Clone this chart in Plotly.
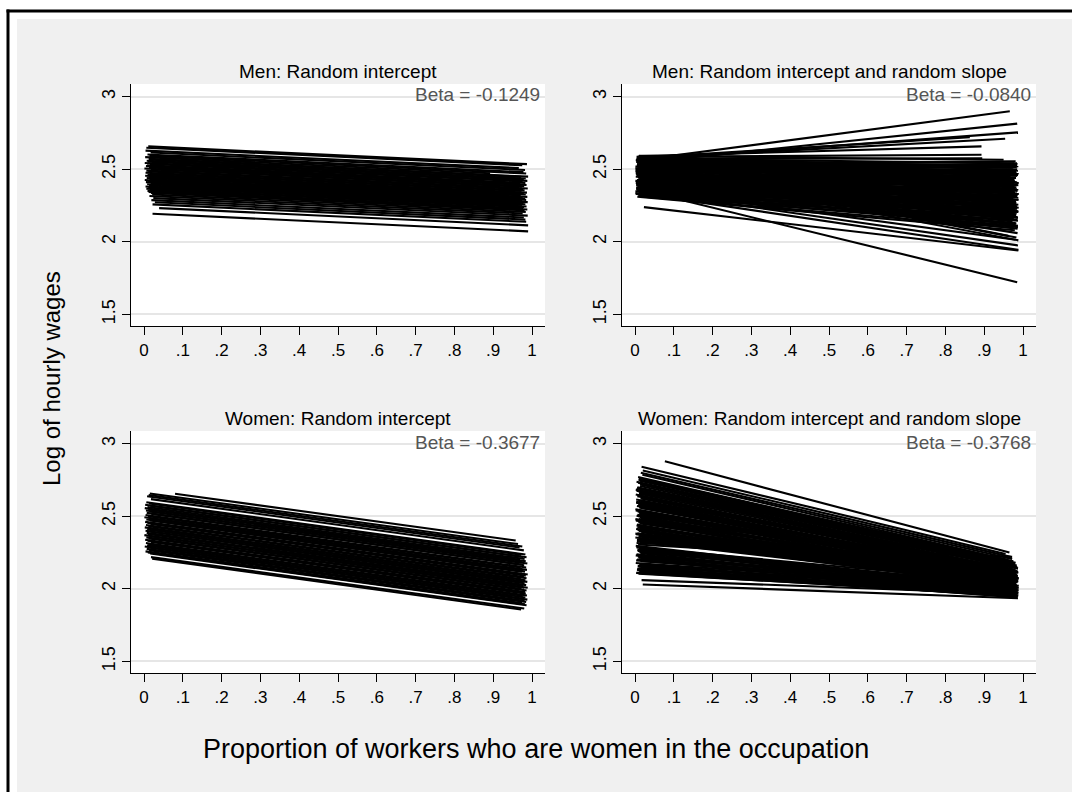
import plotly.graph_objects as go

W, H = 1072, 792
FONT = "Arial, Liberation Sans, sans-serif"

# ---------------- data ----------------
TITLES = ["Men: Random intercept", "Men: Random intercept and random slope",
          "Women: Random intercept", "Women: Random intercept and random slope"]
BETAS = [-0.1249, -0.0840, -0.3677, -0.3768]
X_TICKS = [0, 0.1, 0.2, 0.3, 0.4, 0.5, 0.6, 0.7, 0.8, 0.9, 1]
X_TICKTEXT = ["0", ".1", ".2", ".3", ".4", ".5", ".6", ".7", ".8", ".9", "1"]
Y_TICKS = [1.5, 2, 2.5, 3]
Y_TICKTEXT = ["1.5", "2", "2.5", "3"]

# Men, random intercept: occupation lines share the fixed slope (Beta)
MEN_RI_X0 = [0.011, 0.006, 0.004, 0.017, 0.009, 0.014, 0.003, 0.012, 0.019, 0.007,
             0.010, 0.002, 0.015, 0.008, 0.005, 0.013, 0.001, 0.018, 0.006, 0.011,
             0.004, 0.016, 0.009, 0.003, 0.012, 0.007, 0.014, 0.002, 0.010, 0.005,
             0.017, 0.008, 0.013, 0.004, 0.011, 0.006, 0.015, 0.009, 0.012, 0.018,
             0.021, 0.014, 0.024, 0.019, 0.028, 0.022, 0.039, 0.022]
MEN_RI_X1 = [0.987, 0.975, 0.966, 0.982, 0.978, 0.985, 0.892, 0.990, 0.972, 0.984,
             0.979, 0.988, 0.976, 0.983, 0.970, 0.986, 0.980, 0.974, 0.989, 0.977,
             0.981, 0.973, 0.987, 0.979, 0.984, 0.971, 0.988, 0.976, 0.982, 0.985,
             0.975, 0.989, 0.978, 0.983, 0.974, 0.986, 0.980, 0.977, 0.988, 0.981,
             0.984, 0.976, 0.989, 0.979, 0.983, 0.985, 0.990, 0.990]
MEN_RI_Y0 = [2.657, 2.648, 2.628, 2.615, 2.601, 2.592, 2.583, 2.571, 2.566, 2.558,
             2.551, 2.543, 2.536, 2.527, 2.521, 2.513, 2.505, 2.499, 2.490, 2.484,
             2.476, 2.469, 2.461, 2.455, 2.447, 2.440, 2.431, 2.426, 2.418, 2.411,
             2.402, 2.396, 2.388, 2.381, 2.374, 2.366, 2.359, 2.351, 2.344, 2.337,
             2.326, 2.315, 2.301, 2.287, 2.272, 2.258, 2.232, 2.193]

# Men, random intercept and random slope
MEN_RS_X0 = [0.020, 0.030, 0.025, 0.018, 0.022, 0.015, 0.012, 0.020, 0.010, 0.014,
             0.008, 0.016, 0.005, 0.011, 0.003, 0.017, 0.007, 0.013, 0.002, 0.009,
             0.019, 0.006, 0.012, 0.004, 0.015, 0.008, 0.001, 0.010, 0.014, 0.005,
             0.018, 0.003, 0.011, 0.007, 0.016, 0.002, 0.009, 0.013, 0.006, 0.012,
             0.004, 0.010, 0.017, 0.008, 0.003, 0.014, 0.020, 0.006, 0.011, 0.001,
             0.015, 0.020, 0.023, 0.009, 0.005, 0.012,
             0.004, 0.013, 0.002, 0.008, 0.015, 0.006, 0.011, 0.001, 0.017, 0.009,
             0.003, 0.012, 0.007, 0.014, 0.005, 0.010, 0.002, 0.016, 0.008, 0.004,
             0.013, 0.006, 0.011, 0.001, 0.009, 0.014, 0.003, 0.010, 0.007, 0.012,
             0.005, 0.015, 0.002, 0.011,
             0.007, 0.012, 0.003, 0.016, 0.009, 0.005, 0.014, 0.001, 0.011, 0.006,
             0.018, 0.004, 0.013, 0.008, 0.002, 0.015, 0.010, 0.006, 0.012, 0.003,
             0.017, 0.009, 0.005, 0.014, 0.001, 0.011, 0.007, 0.013, 0.004, 0.010,
             0.016, 0.002, 0.008, 0.012, 0.006, 0.015, 0.003, 0.009, 0.011, 0.005]
MEN_RS_Y0 = [2.567, 2.550, 2.565, 2.575, 2.580, 2.590, 2.585, 2.570, 2.592, 2.545,
             2.580, 2.560, 2.575, 2.540, 2.550, 2.530, 2.520, 2.510, 2.500, 2.490,
             2.485, 2.470, 2.460, 2.455, 2.440, 2.430, 2.420, 2.410, 2.400, 2.390,
             2.380, 2.370, 2.360, 2.350, 2.340, 2.330, 2.325, 2.315, 2.310, 2.470,
             2.520, 2.500, 2.440, 2.450, 2.390, 2.350, 2.330, 2.560, 2.530, 2.490,
             2.430, 2.353, 2.239, 2.545, 2.480, 2.365,
             2.585, 2.572, 2.562, 2.552, 2.538, 2.525, 2.515, 2.505, 2.495, 2.478,
             2.465, 2.452, 2.445, 2.435, 2.425, 2.415, 2.405, 2.395, 2.385, 2.375,
             2.365, 2.355, 2.345, 2.335, 2.320, 2.312, 2.500, 2.540, 2.460, 2.410,
             2.575, 2.520, 2.480, 2.440,
             2.588, 2.578, 2.568, 2.558, 2.548, 2.535, 2.528, 2.518, 2.508, 2.498,
             2.488, 2.476, 2.468, 2.458, 2.448, 2.438, 2.428, 2.418, 2.408, 2.398,
             2.388, 2.378, 2.368, 2.358, 2.348, 2.338, 2.328, 2.318, 2.560, 2.540,
             2.510, 2.470, 2.450, 2.420, 2.400, 2.380, 2.360, 2.340, 2.575, 2.530]
MEN_RS_X1 = [0.966, 0.985, 0.987, 0.954, 0.863, 0.893, 0.893, 0.895, 0.950, 0.985,
             0.975, 0.982, 0.968, 0.986, 0.979, 0.973, 0.988, 0.977, 0.984, 0.971,
             0.989, 0.980, 0.975, 0.987, 0.982, 0.969, 0.985, 0.978, 0.988, 0.974,
             0.983, 0.986, 0.976, 0.989, 0.981, 0.972, 0.987, 0.984, 0.979, 0.986,
             0.983, 0.988, 0.975, 0.981, 0.986, 0.987, 0.988, 0.977, 0.984, 0.970,
             0.982, 0.985, 0.988, 0.962, 0.978, 0.981,
             0.980, 0.986, 0.976, 0.989, 0.983, 0.978, 0.985, 0.972, 0.988, 0.981,
             0.975, 0.987, 0.979, 0.984, 0.971, 0.986, 0.980, 0.977, 0.988, 0.982,
             0.974, 0.985, 0.979, 0.987, 0.983, 0.976, 0.984, 0.981, 0.989, 0.973,
             0.986, 0.979, 0.983, 0.988,
             0.983, 0.976, 0.988, 0.980, 0.985, 0.973, 0.987, 0.979, 0.984, 0.977,
             0.989, 0.981, 0.975, 0.986, 0.982, 0.978, 0.988, 0.974, 0.983, 0.985,
             0.980, 0.987, 0.976, 0.984, 0.979, 0.986, 0.972, 0.983, 0.988, 0.981,
             0.977, 0.985, 0.979, 0.987, 0.982, 0.975, 0.984, 0.980, 0.986, 0.978]
MEN_RS_Y1 = [2.899, 2.814, 2.754, 2.710, 2.720, 2.657, 2.600, 2.575, 2.565, 2.530,
             2.510, 2.480, 2.450, 2.520, 2.420, 2.470, 2.390, 2.440, 2.360, 2.500,
             2.330, 2.410, 2.300, 2.460, 2.270, 2.380, 2.240, 2.430, 2.210, 2.350,
             2.190, 2.320, 2.160, 2.290, 2.130, 2.260, 2.110, 2.230, 2.080, 2.060,
             2.030, 2.010, 2.160, 2.120, 2.090, 1.975, 1.945, 2.400, 2.250, 2.200,
             2.180, 1.722, 1.940, 2.041, 2.540, 2.014,
             2.495, 2.465, 2.435, 2.405, 2.375, 2.345, 2.315, 2.285, 2.255, 2.225,
             2.195, 2.165, 2.485, 2.455, 2.425, 2.395, 2.365, 2.335, 2.305, 2.275,
             2.245, 2.215, 2.185, 2.145, 2.125, 2.095, 2.515, 2.555, 2.235, 2.140,
             2.350, 2.290, 2.265, 2.205,
             2.470, 2.420, 2.520, 2.360, 2.455, 2.300, 2.490, 2.340, 2.410, 2.220,
             2.470, 2.280, 2.390, 2.150, 2.440, 2.250, 2.360, 2.120, 2.410, 2.230,
             2.320, 2.100, 2.380, 2.200, 2.260, 2.170, 2.300, 2.150, 2.330, 2.270,
             2.180, 2.500, 2.340, 2.290, 2.270, 2.240, 2.310, 2.200, 2.540, 2.380]

# Women, random intercept: common slope (Beta)
WOMEN_RI_X0 = [0.015, 0.080, 0.012, 0.008, 0.018, 0.006, 0.013, 0.003, 0.016, 0.009,
               0.002, 0.011, 0.005, 0.014, 0.007, 0.019, 0.004, 0.010, 0.001, 0.012,
               0.006, 0.015, 0.003, 0.009, 0.017, 0.005, 0.011, 0.002, 0.013, 0.008,
               0.004, 0.016, 0.007, 0.010, 0.001, 0.014, 0.006, 0.012, 0.003, 0.009,
               0.018, 0.005, 0.011, 0.008, 0.002, 0.015, 0.007, 0.013, 0.004, 0.010,
               0.016, 0.018, 0.021]
WOMEN_RI_X1 = [0.964, 0.958, 0.975, 0.968, 0.979, 0.983, 0.972, 0.986, 0.977, 0.981,
               0.969, 0.984, 0.976, 0.988, 0.973, 0.980, 0.985, 0.971, 0.987, 0.978,
               0.982, 0.974, 0.989, 0.976, 0.984, 0.979, 0.986, 0.972, 0.983, 0.988,
               0.975, 0.981, 0.985, 0.977, 0.989, 0.980, 0.973, 0.986, 0.982, 0.978,
               0.984, 0.987, 0.976, 0.983, 0.979, 0.988, 0.981, 0.985, 0.974, 0.982,
               0.986, 0.980, 0.972]
WOMEN_RI_Y0 = [2.657, 2.655, 2.646, 2.637, 2.618, 2.596, 2.588, 2.579, 2.572, 2.563,
               2.556, 2.547, 2.539, 2.532, 2.523, 2.516, 2.508, 2.500, 2.493, 2.485,
               2.477, 2.470, 2.461, 2.454, 2.446, 2.439, 2.431, 2.423, 2.416, 2.408,
               2.400, 2.393, 2.385, 2.377, 2.370, 2.362, 2.354, 2.347, 2.338, 2.331,
               2.322, 2.315, 2.307, 2.299, 2.291, 2.283, 2.275, 2.266, 2.258, 2.250,
               2.243, 2.218, 2.207]

# Women, random intercept and random slope
WOMEN_RS_X0 = [0.077, 0.017, 0.020, 0.015, 0.019, 0.010, 0.012, 0.008, 0.014, 0.006,
               0.011, 0.004, 0.013, 0.007, 0.016, 0.003, 0.009, 0.012, 0.005, 0.015,
               0.002, 0.010, 0.006, 0.013, 0.001, 0.008, 0.014, 0.004, 0.011, 0.007,
               0.016, 0.003, 0.009, 0.012, 0.005, 0.002, 0.010, 0.006, 0.013, 0.004,
               0.008, 0.015, 0.003, 0.011, 0.007, 0.014, 0.005, 0.012, 0.009, 0.017,
               0.020, 0.004,
               0.009, 0.004, 0.013, 0.002, 0.010, 0.006, 0.014, 0.003, 0.008, 0.012,
               0.001, 0.007, 0.011, 0.004, 0.015, 0.002, 0.009, 0.005, 0.013, 0.003,
               0.010, 0.006, 0.012, 0.001, 0.008, 0.004, 0.011, 0.007, 0.014, 0.002,
               0.009, 0.005, 0.012, 0.006, 0.010, 0.003,
               0.008, 0.013, 0.005, 0.010, 0.002, 0.014, 0.007, 0.011, 0.004, 0.016,
               0.009, 0.003, 0.012, 0.006, 0.015, 0.001, 0.010, 0.005, 0.008, 0.013,
               0.004, 0.011, 0.007, 0.014, 0.002, 0.009, 0.006, 0.012, 0.003, 0.010]
WOMEN_RS_Y0 = [2.878, 2.841, 2.815, 2.800, 2.785, 2.760, 2.745, 2.730, 2.718, 2.700,
               2.690, 2.675, 2.662, 2.645, 2.630, 2.615, 2.600, 2.586, 2.570, 2.556,
               2.540, 2.526, 2.510, 2.495, 2.480, 2.466, 2.450, 2.436, 2.420, 2.405,
               2.390, 2.376, 2.360, 2.346, 2.330, 2.296, 2.282, 2.268, 2.252, 2.238,
               2.222, 2.208, 2.196, 2.170, 2.158, 2.146, 2.132, 2.118, 2.104, 2.060,
               2.030, 2.316,
               2.752, 2.737, 2.708, 2.683, 2.655, 2.638, 2.622, 2.593, 2.578, 2.563,
               2.548, 2.533, 2.518, 2.503, 2.488, 2.473, 2.458, 2.443, 2.428, 2.413,
               2.398, 2.383, 2.368, 2.353, 2.338, 2.289, 2.275, 2.260, 2.245, 2.230,
               2.215, 2.202, 2.164, 2.140, 2.125, 2.110,
               2.770, 2.723, 2.695, 2.668, 2.650, 2.607, 2.595, 2.560, 2.545, 2.515,
               2.500, 2.470, 2.455, 2.425, 2.410, 2.380, 2.365, 2.340, 2.305, 2.320,
               2.285, 2.255, 2.225, 2.190, 2.178, 2.152, 2.128, 2.112, 2.600, 2.480]
WOMEN_RS_X1 = [0.965, 0.955, 0.968, 0.972, 0.975, 0.960, 0.978, 0.981, 0.985, 0.974,
               0.987, 0.979, 0.983, 0.976, 0.988, 0.980, 0.984, 0.977, 0.986, 0.981,
               0.975, 0.989, 0.982, 0.978, 0.985, 0.973, 0.987, 0.980, 0.984, 0.976,
               0.988, 0.982, 0.979, 0.986, 0.974, 0.983, 0.977, 0.989, 0.981, 0.985,
               0.978, 0.987, 0.980, 0.984, 0.976, 0.988, 0.982, 0.986, 0.979, 0.985,
               0.987, 0.972,
               0.971, 0.980, 0.976, 0.985, 0.973, 0.982, 0.987, 0.978, 0.984, 0.975,
               0.988, 0.981, 0.977, 0.986, 0.979, 0.984, 0.976, 0.989, 0.982, 0.978,
               0.985, 0.980, 0.987, 0.974, 0.983, 0.979, 0.986, 0.981, 0.977, 0.988,
               0.984, 0.975, 0.982, 0.986, 0.980, 0.987,
               0.979, 0.984, 0.976, 0.987, 0.981, 0.975, 0.988, 0.982, 0.978, 0.985,
               0.980, 0.986, 0.977, 0.983, 0.989, 0.979, 0.984, 0.976, 0.982, 0.987,
               0.981, 0.978, 0.985, 0.980, 0.986, 0.983, 0.977, 0.988, 0.974, 0.981]
WOMEN_RS_Y1 = [2.250, 2.240, 2.220, 2.205, 2.190, 2.200, 2.170, 2.180, 2.150, 2.160,
               2.140, 2.130, 2.150, 2.120, 2.110, 2.130, 2.100, 2.090, 2.120, 2.080,
               2.100, 2.070, 2.090, 2.060, 2.080, 2.050, 2.070, 2.040, 2.060, 2.030,
               2.050, 2.020, 2.040, 2.010, 2.030, 2.000, 2.020, 1.990, 2.010, 1.980,
               2.000, 1.975, 1.990, 1.965, 1.980, 1.955, 1.970, 1.950, 1.960, 1.965,
               1.935, 2.220,
               2.185, 2.165, 2.155, 2.145, 2.135, 2.125, 2.115, 2.105, 2.095, 2.085,
               2.075, 2.065, 2.055, 2.045, 2.035, 2.025, 2.015, 2.005, 1.995, 1.985,
               2.075, 2.065, 2.055, 2.045, 2.035, 2.005, 1.995, 1.985, 1.975, 1.970,
               1.960, 1.950, 1.945, 1.940, 1.945, 1.950,
               2.175, 2.160, 2.110, 2.140, 2.090, 2.120, 2.070, 2.110, 2.060, 2.090,
               2.040, 2.080, 2.030, 2.070, 2.020, 2.060, 2.010, 2.050, 2.150, 2.090,
               2.040, 2.030, 2.020, 2.010, 1.990, 2.000, 1.985, 1.975, 2.180, 2.150]


def common_slope_ends(x0, y0, x1, beta):
    """End heights of random-intercept lines, which all share the fixed slope."""
    return [y + beta * (xe - xs) for xs, y, xe in zip(x0, y0, x1)]


def segments(x0, y0, x1, y1):
    xs, ys = [], []
    for a, b, c, d in zip(x0, y0, x1, y1):
        xs += [a, c, None]
        ys += [b, d, None]
    return xs, ys


panels = [
    (MEN_RI_X0, MEN_RI_Y0, MEN_RI_X1, common_slope_ends(MEN_RI_X0, MEN_RI_Y0, MEN_RI_X1, BETAS[0])),
    (MEN_RS_X0, MEN_RS_Y0, MEN_RS_X1, MEN_RS_Y1),
    (WOMEN_RI_X0, WOMEN_RI_Y0, WOMEN_RI_X1, common_slope_ends(WOMEN_RI_X0, WOMEN_RI_Y0, WOMEN_RI_X1, BETAS[2])),
    (WOMEN_RS_X0, WOMEN_RS_Y0, WOMEN_RS_X1, WOMEN_RS_Y1),
]

# ---------------- layout geometry (pixels) ----------------
COLS = [(131, 545), (622, 1036)]
ROWS = [(84, 326), (431, 673)]
X_RANGE = [-0.0335, 1.0335]
Y_RANGE = [1.42, 3.087]


def px_x(p):
    return p / W


def px_y(p):
    return 1 - p / H


fig = go.Figure()
annotations = []
for i, (x0, y0, x1, y1) in enumerate(panels):
    r, c = divmod(i, 2)
    n = "" if i == 0 else str(i + 1)
    xs, ys = segments(x0, y0, x1, y1)
    fig.add_trace(go.Scatter(x=xs, y=ys, mode="lines", xaxis="x" + n, yaxis="y" + n,
                             line=dict(color="black", width=2.1), hoverinfo="skip",
                             showlegend=False))
    left, right = COLS[c]
    top, bottom = ROWS[r]
    fig.layout["xaxis" + n] = dict(
        domain=[px_x(left), px_x(right)], anchor="y" + n, range=X_RANGE,
        tickmode="array", tickvals=X_TICKS, ticktext=X_TICKTEXT,
        ticks="outside", ticklen=8, tickwidth=1.3, tickcolor="black",
        showline=True, linecolor="black", linewidth=1.3,
        showgrid=False, zeroline=False, fixedrange=True,
        tickfont=dict(family=FONT, size=17, color="black"))
    fig.layout["yaxis" + n] = dict(
        domain=[px_y(bottom), px_y(top)], anchor="x" + n, range=Y_RANGE,
        tickmode="array", tickvals=Y_TICKS, ticktext=Y_TICKTEXT, tickangle=-90,
        ticks="outside", ticklen=8, tickwidth=1.3, tickcolor="black",
        showline=True, linecolor="black", linewidth=1.3,
        showgrid=True, gridcolor="#e6e6e6", gridwidth=1.5, zeroline=False,
        fixedrange=True, tickfont=dict(family=FONT, size=18, color="black"))
    annotations.append(dict(
        text=TITLES[i], xref="paper", yref="paper",
        x=px_x((left + right) / 2), y=px_y(top - 13), xanchor="center", yanchor="middle",
        showarrow=False, font=dict(family=FONT, size=19, color="black")))
    annotations.append(dict(
        text=f"Beta = {BETAS[i]:.4f}", xref="paper", yref="paper",
        x=px_x(right - 3), y=px_y(top + 11), xanchor="right", yanchor="middle",
        showarrow=False, font=dict(family=FONT, size=19, color="#555555")))

annotations.append(dict(
    text="Log of hourly wages", xref="paper", yref="paper", x=px_x(51), y=px_y(379),
    xanchor="center", yanchor="middle", textangle=-90, showarrow=False,
    font=dict(family=FONT, size=24, color="black")))
annotations.append(dict(
    text="Proportion of workers who are women in the occupation", xref="paper", yref="paper",
    x=px_x(536), y=px_y(749), xanchor="center", yanchor="middle", showarrow=False,
    font=dict(family=FONT, size=27, color="black")))

shapes = [
    # white frame strip and black frame edges along top and left
    dict(type="rect", xref="paper", yref="paper", x0=0, x1=px_x(17), y0=0, y1=1,
         fillcolor="white", line=dict(width=0)),
    dict(type="rect", xref="paper", yref="paper", x0=0, x1=1, y0=px_y(19), y1=1,
         fillcolor="white", line=dict(width=0)),
    dict(type="line", xref="paper", yref="paper", x0=px_x(8), x1=px_x(8), y0=0, y1=px_y(9.5),
         line=dict(color="black", width=3)),
    dict(type="line", xref="paper", yref="paper", x0=px_x(6.5), x1=1, y0=px_y(11), y1=px_y(11),
         line=dict(color="black", width=3)),
]

fig.update_layout(
    width=W, height=H, autosize=False,
    margin=dict(l=0, r=0, t=0, b=0, pad=0),
    paper_bgcolor="#f0f0f0", plot_bgcolor="white",
    annotations=annotations, shapes=shapes,
    font=dict(family=FONT),
)

fig.write_html("out.html")
